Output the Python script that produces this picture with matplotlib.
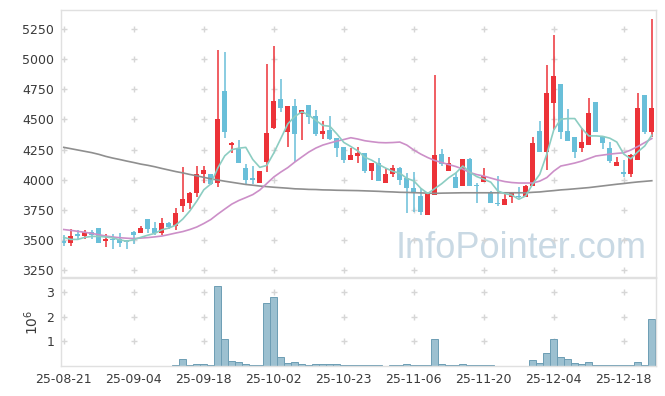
import numpy as np
import matplotlib

matplotlib.use("Agg")
import matplotlib.pyplot as plt
from matplotlib import font_manager

# ── Data ──────────────────────────────────────────────────────────────────────
tick_pos = [0, 10, 20, 30, 40, 50, 60, 70, 80]
tick_labels = ["25-08-21", "25-09-04", "25-09-18", "25-10-02", "25-10-23",
               "25-11-06", "25-11-20", "25-12-04", "25-12-18"]

opens = [3490, 3476, 3545, 3535, 3565, 3600, 3490, 3505, 3510, 3490,
         3565, 3560, 3673, 3600, 3555, 3642, 3615, 3783, 3808, 3886,
         4046, 4046, 3969, 4735, 4290, 4254, 4099, 4010, 3974, 4149,
         4426, 4669, 4398, 4611, 4542, 4619, 4528, 4376, 4412, 4343,
         4273, 4163, 4196, 4218, 4074, 4135, 3969, 4044, 4094, 4011,
         3928, 3864, 3706, 3872, 4212, 4074, 4024, 3949, 4171, 3955,
         3983, 3886, 3810, 3789, 3858, 3865, 3858, 3949, 4403, 4232,
         4638, 4791, 4403, 4351, 4260, 4287, 4644, 4362, 4260, 4115,
         4060, 4046, 4163, 4702, 4398]
closes = [3475, 3530, 3535, 3565, 3540, 3475, 3505, 3500, 3478, 3485,
          3540, 3600, 3590, 3555, 3637, 3610, 3725, 3839, 3891, 4046,
          4080, 3963, 4503, 4398, 4300, 4140, 3997, 4000, 4071, 4384,
          4652, 4597, 4611, 4376, 4578, 4517, 4376, 4403, 4340, 4265,
          4163, 4204, 4223, 4074, 4140, 3991, 4046, 4094, 3997, 3928,
          3886, 3734, 3880, 4204, 4129, 4135, 3928, 4168, 3949, 3945,
          4032, 3803, 3800, 3839, 3886, 3855, 3949, 4301, 4232, 4721,
          4860, 4398, 4323, 4232, 4310, 4550, 4398, 4306, 4157, 4149,
          4050, 4204, 4597, 4398, 4597]
highs = [3540, 3590, 3580, 3585, 3585, 3600, 3550, 3550, 3560, 3500,
         3570, 3615, 3673, 3645, 3680, 3650, 3762, 4107, 3900, 4115,
         4115, 4050, 5076, 5057, 4315, 4330, 4127, 4113, 4075, 4957,
         5109, 4835, 4611, 4666, 4580, 4620, 4578, 4486, 4528, 4345,
         4275, 4260, 4273, 4220, 4140, 4182, 4094, 4121, 4102, 4052,
         4066, 3928, 3890, 4868, 4251, 4190, 4052, 4170, 4180, 3975,
         4094, 3906, 4030, 3900, 3886, 3941, 3955, 4356, 4486, 4951,
         5200, 4791, 4583, 4351, 4426, 4675, 4644, 4362, 4310, 4190,
         4163, 4215, 4721, 4702, 5330]
lows = [3450, 3450, 3500, 3505, 3505, 3475, 3440, 3425, 3440, 3425,
        3470, 3555, 3555, 3540, 3540, 3590, 3585, 3734, 3755, 3858,
        3970, 3955, 3943, 4343, 4220, 4140, 3960, 3963, 3970, 4066,
        4417, 4564, 4273, 4149, 4329, 4459, 4362, 4334, 4329, 4190,
        4135, 4160, 4135, 4055, 3997, 3991, 3969, 4019, 3955, 3720,
        3734, 3706, 3706, 3872, 4113, 4074, 3928, 3949, 3945, 3810,
        3983, 3803, 3780, 3789, 3808, 3845, 3855, 3949, 4232, 4080,
        4412, 4334, 4323, 4177, 4232, 4287, 4398, 4251, 4140, 4115,
        4024, 4024, 4163, 4378, 4356]

ma5 = [3521, 3504, 3504, 3521, 3529, 3529, 3524, 3517, 3500, 3489,
       3502, 3521, 3539, 3554, 3584, 3598, 3623, 3673, 3740, 3822,
       3916, 3964, 4097, 4198, 4249, 4261, 4268, 4167, 4102, 4118,
       4221, 4341, 4463, 4524, 4563, 4536, 4492, 4450, 4443, 4380,
       4309, 4275, 4239, 4186, 4161, 4126, 4095, 4069, 4054, 4011,
       3990, 3928, 3885, 3926, 3967, 4016, 4055, 4113, 4062, 4025,
       4004, 3979, 3906, 3884, 3872, 3837, 3866, 3966, 4045, 4212,
       4413, 4502, 4507, 4507, 4425, 4363, 4363, 4359, 4344, 4312,
       4212, 4173, 4231, 4280, 4369]
ma20 = [3586, 3579, 3571, 3563, 3554, 3543, 3532, 3524, 3518, 3514,
        3511, 3515, 3519, 3525, 3532, 3544, 3557, 3569, 3586, 3607,
        3636, 3669, 3714, 3756, 3797, 3827, 3851, 3876, 3914, 3968,
        4022, 4063, 4100, 4146, 4188, 4229, 4262, 4287, 4304, 4320,
        4333, 4348, 4337, 4323, 4315, 4308, 4306, 4308, 4312, 4287,
        4246, 4212, 4183, 4159, 4142, 4125, 4109, 4088, 4059, 4042,
        4030, 4013, 3997, 3984, 3976, 3972, 3972, 3972, 3988, 4017,
        4071, 4113, 4125, 4138, 4154, 4175, 4196, 4204, 4212, 4218,
        4223, 4246, 4275, 4308, 4341]
ma120 = [4268, 4257, 4246, 4235, 4224, 4210, 4193, 4179, 4167, 4154,
         4142, 4129, 4119, 4107, 4093, 4080, 4067, 4056, 4043, 4032,
         4019, 4007, 3997, 3987, 3978, 3969, 3960, 3954, 3947, 3942,
         3937, 3933, 3929, 3924, 3922, 3919, 3918, 3915, 3914, 3912,
         3911, 3910, 3909, 3907, 3905, 3903, 3900, 3898, 3895, 3894,
         3892, 3890, 3888, 3886, 3888, 3889, 3890, 3891, 3891, 3891,
         3891, 3891, 3891, 3891, 3891, 3891, 3891, 3895, 3898, 3904,
         3909, 3915, 3919, 3924, 3929, 3934, 3941, 3948, 3955, 3962,
         3968, 3975, 3981, 3986, 3991]

volume = [0, 0, 0, 0, 0, 0, 0, 0, 0, 0,
          0, 0, 0, 0, 0, 0, 40000, 290000, 30000, 80000,
          80000, 40000, 3230000, 1090000, 210000, 160000, 90000, 40000, 40000, 2540000,
          2780000, 360000, 130000, 160000, 80000, 40000, 80000, 80000, 80000, 80000,
          40000, 40000, 40000, 40000, 40000, 40000, 0, 40000, 40000, 80000,
          40000, 40000, 40000, 1090000, 80000, 40000, 40000, 80000, 40000, 40000,
          40000, 40000, 0, 0, 0, 0, 0, 250000, 130000, 530000,
          1090000, 360000, 290000, 130000, 80000, 160000, 40000, 40000, 40000, 40000,
          40000, 40000, 160000, 40000, 1910000]

price_ticks = [3250, 3500, 3750, 4000, 4250, 4500, 4750, 5000, 5250]
vol_ticks = [1e6, 2e6, 3e6]

UP = "#ec3238"
DOWN = "#69bfd9"
GRID = "#d6d6d6"
SPINE = "#e0e0e0"
TXT = "#3a3a3a"

plt.rcParams["font.family"] = ["DejaVu Sans"]

# watermark font: narrow if available
wm_font = "Liberation Sans"
try:
    font_manager.findfont("Liberation Sans Narrow", fallback_to_default=False)
    wm_font = "Liberation Sans Narrow"
except Exception:
    pass

o = np.array(opens, float)
c = np.array(closes, float)
x = np.arange(len(c))
cols = [UP if cc >= oo else DOWN for oo, cc in zip(o, c)]

fig = plt.figure(figsize=(6.65, 3.96), dpi=100)
ax = fig.add_axes([61 / 665, 119 / 396, 595 / 665, 267 / 396])
axv = fig.add_axes([61 / 665, 30 / 396, 595 / 665, 88 / 396], sharex=ax)

# ── Price pane ────────────────────────────────────────────────────────────────
ax.text(0.985, 0.04, "InfoPointer.com", transform=ax.transAxes, ha="right", va="bottom",
        fontsize=26, color="#c9d9e4", family=wm_font, zorder=0)

gx, gy = np.meshgrid(tick_pos, price_ticks)
ax.plot(gx.ravel(), gy.ravel(), "+", color=GRID, ms=5, mew=1, zorder=1)

ax.vlines(x, lows, highs, colors=cols, linewidth=1.1, zorder=2)
ax.bar(x, np.maximum(np.abs(c - o), 10), bottom=np.minimum(o, c), width=0.72,
       color=cols, linewidth=0, zorder=2)

ax.plot(x, ma120, color="#8f8f8f", lw=1.2, zorder=3)
ax.plot(x, ma20, color="#cc8fc8", lw=1.2, zorder=3)
ax.plot(x, ma5, color="#8ccdc2", lw=1.2, zorder=3)

ax.set_ylim(3192, 5408)
ax.set_xlim(-0.4, 84.6)
ax.set_yticks(price_ticks)
ax.tick_params(axis="y", length=0, pad=5, labelsize=9, labelcolor=TXT)
ax.tick_params(axis="x", length=0, labelbottom=False)

# ── Volume pane ───────────────────────────────────────────────────────────────
vx, vy = np.meshgrid(tick_pos, vol_ticks)
axv.plot(vx.ravel(), vy.ravel(), "+", color=GRID, ms=5, mew=1, zorder=1)
axv.bar(x, volume, width=1.0, color="#9cc0d0", edgecolor="#6d9db4", linewidth=0.7, zorder=2)
axv.set_ylim(0, 3.57e6)
axv.set_yticks(vol_ticks)
axv.set_yticklabels(["1", "2", "3"])
axv.set_ylabel(r"$10^{6}$", fontsize=10, color=TXT, labelpad=4)
axv.set_xticks(tick_pos)
axv.set_xticklabels(tick_labels)
axv.tick_params(axis="y", length=0, pad=5, labelsize=9, labelcolor=TXT)
axv.tick_params(axis="x", length=0, pad=5, labelsize=9, labelcolor=TXT)

for a in (ax, axv):
    for s in a.spines.values():
        s.set_color(SPINE)
        s.set_linewidth(1)

fig.savefig("out.png", dpi=100)
